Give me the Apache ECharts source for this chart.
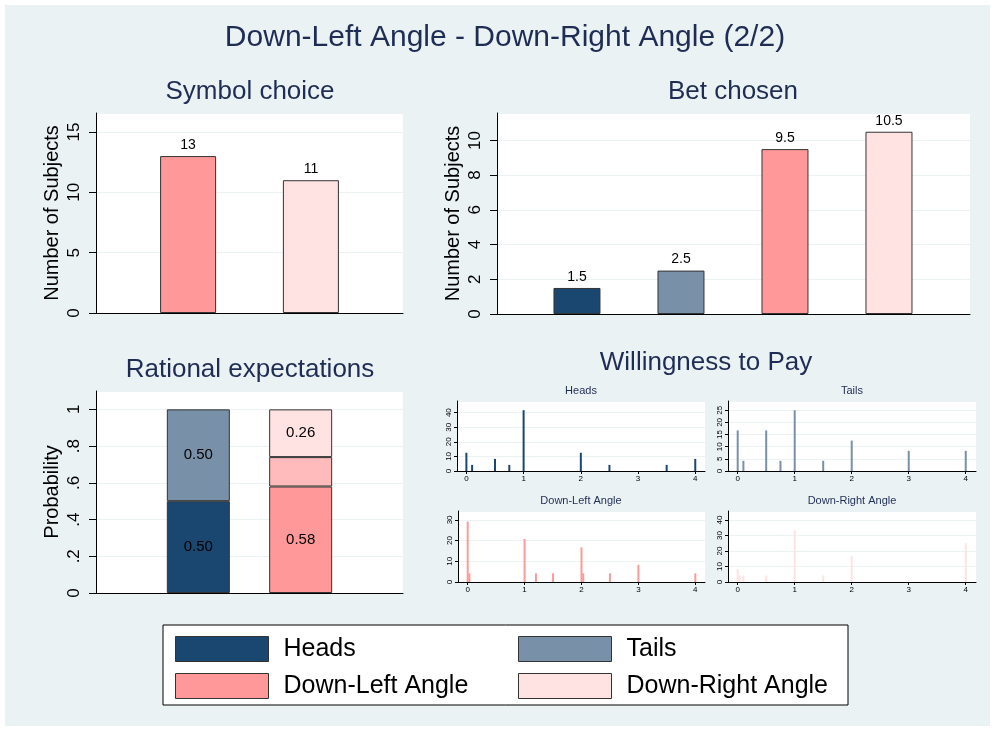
<!DOCTYPE html>
<html>
<head>
<meta charset="utf-8">
<script src="https://cdn.jsdelivr.net/npm/echarts@6/dist/echarts.min.js"></script>
<style>
  html, body { margin: 0; padding: 0; background: #fff; }
  #main { width: 995px; height: 730px; }
</style>
</head>
<body>
<div id="main"></div>
<script>
// ---- data ----
var groupNames = ['Heads', 'Tails', 'Down-Left Angle', 'Down-Right Angle'];
var groupColors = ['#1a476f', '#7890a8', '#ff9999', '#ffe3e3'];
var midColor = '#ffbbbb';

var symbolCats = ['Down-Left Angle', 'Down-Right Angle'];
var symbolVals = [13, 11];

var betCats = ['Heads', 'Tails', 'Down-Left Angle', 'Down-Right Angle'];
var betVals = [1.5, 2.5, 9.5, 10.5];

// rational expectations: two stacked bars (empty slots at both ends)
var ratCats = ['', 'Heads / Tails', 'Down-Left / Down-Right', ''];
var ratHeads = ['-', 0.50, '-', '-'];
var ratTails = ['-', 0.50, '-', '-'];
var ratDL = ['-', '-', 0.58, '-'];
var ratMid = ['-', '-', 0.16, '-'];
var ratDR = ['-', '-', 0.26, '-'];

// willingness to pay (percent of subjects)
var wtpHeadsX = [0, 0.1, 0.5, 0.75, 1, 2, 2.5, 3.5, 4];
var wtpHeadsY = [12.5, 4.2, 8.3, 4.2, 41.7, 12.5, 4.2, 4.2, 8.3];
var wtpTailsX = [0, 0.1, 0.5, 0.75, 1, 1.5, 2, 3, 4];
var wtpTailsY = [16.7, 4.2, 16.7, 4.2, 25, 4.2, 12.5, 8.3, 8.3];
var wtpDLX = [0, 0.03, 1, 1.2, 1.5, 2, 2.03, 2.5, 3, 4];
var wtpDLY = [29.2, 4.2, 20.8, 4.2, 4.2, 16.7, 4.2, 4.2, 8.3, 4.2];
var wtpDRX = [0, 0.03, 0.1, 0.5, 1, 1.5, 2, 4];
var wtpDRY = [8.3, 4.2, 4.2, 4.2, 33.3, 4.2, 16.7, 25];

// ---- styling helpers ----
var navy = '#1f2d55';
var font = 'Liberation Sans, Arial, sans-serif';
var bg = '#eaf2f3';

function pairs(xs, ys) {
    return xs.map(function(x, i) { return [x, ys[i]]; });
}

function bigY(idx, max, interval, name, fmt) {
    return {
        type: 'value', gridIndex: idx, min: 0, max: max, interval: interval,
        name: name, nameLocation: 'middle', nameGap: 34,
        nameTextStyle: { fontSize: 20, color: '#000', fontFamily: font },
        axisLine: { show: true, onZero: false, lineStyle: { color: '#000' } },
        axisTick: { show: true, length: 7, lineStyle: { color: '#000' } },
        axisLabel: {
            rotate: 90, fontSize: 17, color: '#000', fontFamily: font, margin: 13,
            showMaxLabel: false,
            formatter: fmt
        },
        splitLine: { show: true, lineStyle: { color: bg } }
    };
}

function bigX(idx, min, max) {
    return {
        type: 'value', gridIndex: idx, min: min, max: max,
        axisLine: { show: true, onZero: false, lineStyle: { color: '#000' } },
        axisTick: { show: false }, axisLabel: { show: false }, splitLine: { show: false }
    };
}

function smallY(idx, max, interval) {
    return {
        type: 'value', gridIndex: idx, min: 0, max: max, interval: interval,
        axisLine: { show: true, onZero: false, lineStyle: { color: '#000' } },
        axisTick: { show: true, length: 3, lineStyle: { color: '#000' } },
        axisLabel: {
            rotate: 90, fontSize: 8, color: '#000', fontFamily: font, margin: 4,
            showMaxLabel: false,
            formatter: function(v) { return v % interval === 0 ? String(v) : ''; }
        },
        splitLine: { show: true, lineStyle: { color: bg } }
    };
}

function smallX(idx, min, max) {
    return {
        type: 'value', gridIndex: idx, min: min, max: max, splitNumber: 4,
        axisLine: { show: true, onZero: false, lineStyle: { color: '#000' } },
        axisTick: { show: true, length: 3, lineStyle: { color: '#000' } },
        axisLabel: {
            fontSize: 8, color: '#000', fontFamily: font, margin: 4,
            showMinLabel: false, showMaxLabel: false,
            formatter: function(v) { return Number.isInteger(v) ? String(v) : ''; }
        },
        splitLine: { show: false }
    };
}

function text(x, y, str, size) {
    return {
        type: 'text', x: x, y: y, z: 10,
        style: { text: str, font: size + 'px ' + font, fill: navy, align: 'center', verticalAlign: 'middle' }
    };
}

var gridBase = { show: true, backgroundColor: '#fff', borderWidth: 0, containLabel: false };
function grid(l, t, w, h) {
    return Object.assign({ left: l, top: t, width: w, height: h }, gridBase);
}

var barBorder = { borderColor: '#333', borderWidth: 1 };
var labelTop = {
    show: true, position: 'top', distance: 4, color: '#000', fontSize: 14, fontFamily: font,
    formatter: function(p) { return String(p.value[1]); }
};
function labelIn(show) {
    return {
        show: show, position: 'inside', color: '#000', fontSize: 15, fontFamily: font,
        formatter: function(p) { return Number(p.value).toFixed(2); }
    };
}

var colorOf = {};
groupNames.forEach(function(n, i) { colorOf[n] = groupColors[i]; });

function legendCol(items, left) {
    return {
        data: items, orient: 'vertical', left: left, top: 636, padding: 0,
        itemWidth: 93, itemHeight: 25, itemGap: 11, icon: 'rect', selectedMode: false,
        itemStyle: { borderColor: '#333', borderWidth: 1 },
        textStyle: { fontSize: 25, color: '#000', fontFamily: font, padding: [0, 0, 0, 10] }, z: 5
    };
}

var option = {
    backgroundColor: '#fff',
    animation: false,
    graphic: [
        { type: 'rect', shape: { x: 5, y: 5, width: 985, height: 721 }, style: { fill: bg }, z: -10 },
        { type: 'rect', shape: { x: 163, y: 625, width: 685, height: 80 }, style: { fill: '#fff', stroke: '#000', lineWidth: 1 }, z: 1 },
        text(505, 38, 'Down-Left Angle - Down-Right Angle (2/2)', 30),
        text(250, 92, 'Symbol choice', 26),
        text(733, 92, 'Bet chosen', 26),
        text(250, 370, 'Rational expectations', 26),
        text(706, 363, 'Willingness to Pay', 26),
        text(581, 391, 'Heads', 11),
        text(852, 391, 'Tails', 11),
        text(581, 501, 'Down-Left Angle', 11),
        text(852, 501, 'Down-Right Angle', 11)
    ],
    grid: [
        grid(96, 113, 307, 200),
        grid(497, 113, 473, 201),
        grid(96, 391, 307, 202),
        grid(457, 401, 248, 70),
        grid(728, 401, 248, 70),
        grid(458, 511, 247, 71),
        grid(728, 511, 248, 71)
    ],
    xAxis: [
        bigX(0, 0.25, 2.75),
        bigX(1, 0.231, 4.779),
        {
            type: 'category', gridIndex: 2, data: ratCats, boundaryGap: false,
            axisLine: { show: true, onZero: false, lineStyle: { color: '#000' } },
            axisTick: { show: false }, axisLabel: { show: false }, splitLine: { show: false }
        },
        smallX(3, -0.164, 4.17),
        smallX(4, -0.17, 4.18),
        smallX(5, -0.17, 4.17),
        smallX(6, -0.17, 4.18)
    ],
    yAxis: [
        bigY(0, 16.57, 5, 'Number of Subjects', function(v) { return v % 5 === 0 ? String(v) : ''; }),
        bigY(1, 11.58, 2, 'Number of Subjects', function(v) { return v % 2 === 0 ? String(v) : ''; }),
        bigY(2, 1.1, 0.2, 'Probability', function(v) {
            var r = Math.round(v * 10) / 10;
            if (r === 0) return '0';
            if (r === 1) return '1';
            if (r > 1) return '';
            return String(r).replace('0.', '.');
        }),
        smallY(3, 48, 10),
        smallY(4, 28.8, 5),
        smallY(5, 34.3, 10),
        smallY(6, 45.8, 10)
    ],
    legend: [
        legendCol(['Heads', 'Down-Left Angle'], 175),
        legendCol(['Tails', 'Down-Right Angle'], 518)
    ],
    series: []
};

// Symbol choice
option.series.push({
    type: 'bar', xAxisIndex: 0, yAxisIndex: 0, barWidth: 56, label: labelTop,
    data: symbolVals.map(function(v, i) {
        return { value: [i + 1, v], itemStyle: Object.assign({ color: colorOf[symbolCats[i]] }, barBorder) };
    })
});

// Bet chosen
option.series.push({
    type: 'bar', xAxisIndex: 1, yAxisIndex: 1, barWidth: 47, label: labelTop,
    data: betVals.map(function(v, i) {
        return { value: [i + 1, v], itemStyle: Object.assign({ color: colorOf[betCats[i]] }, barBorder) };
    })
});

// Rational expectations (stacked)
[
    [ratHeads, groupColors[0], true],
    [ratTails, groupColors[1], true],
    [ratDL, groupColors[2], true],
    [ratMid, midColor, false],
    [ratDR, groupColors[3], true]
].forEach(function(s) {
    option.series.push({
        type: 'bar', xAxisIndex: 2, yAxisIndex: 2, stack: 'rat', barWidth: 63,
        itemStyle: Object.assign({ color: s[1] }, barBorder),
        label: labelIn(s[2]),
        data: s[0]
    });
});

// Willingness to pay spikes
[
    [wtpHeadsX, wtpHeadsY],
    [wtpTailsX, wtpTailsY],
    [wtpDLX, wtpDLY],
    [wtpDRX, wtpDRY]
].forEach(function(d, i) {
    option.series.push({
        name: groupNames[i], type: 'bar', xAxisIndex: 3 + i, yAxisIndex: 3 + i,
        barWidth: 2, itemStyle: { color: groupColors[i] },
        data: pairs(d[0], d[1])
    });
});

var chart = echarts.init(document.getElementById('main'), null, { renderer: 'canvas' });
chart.setOption(option);
</script>
</body>
</html>
